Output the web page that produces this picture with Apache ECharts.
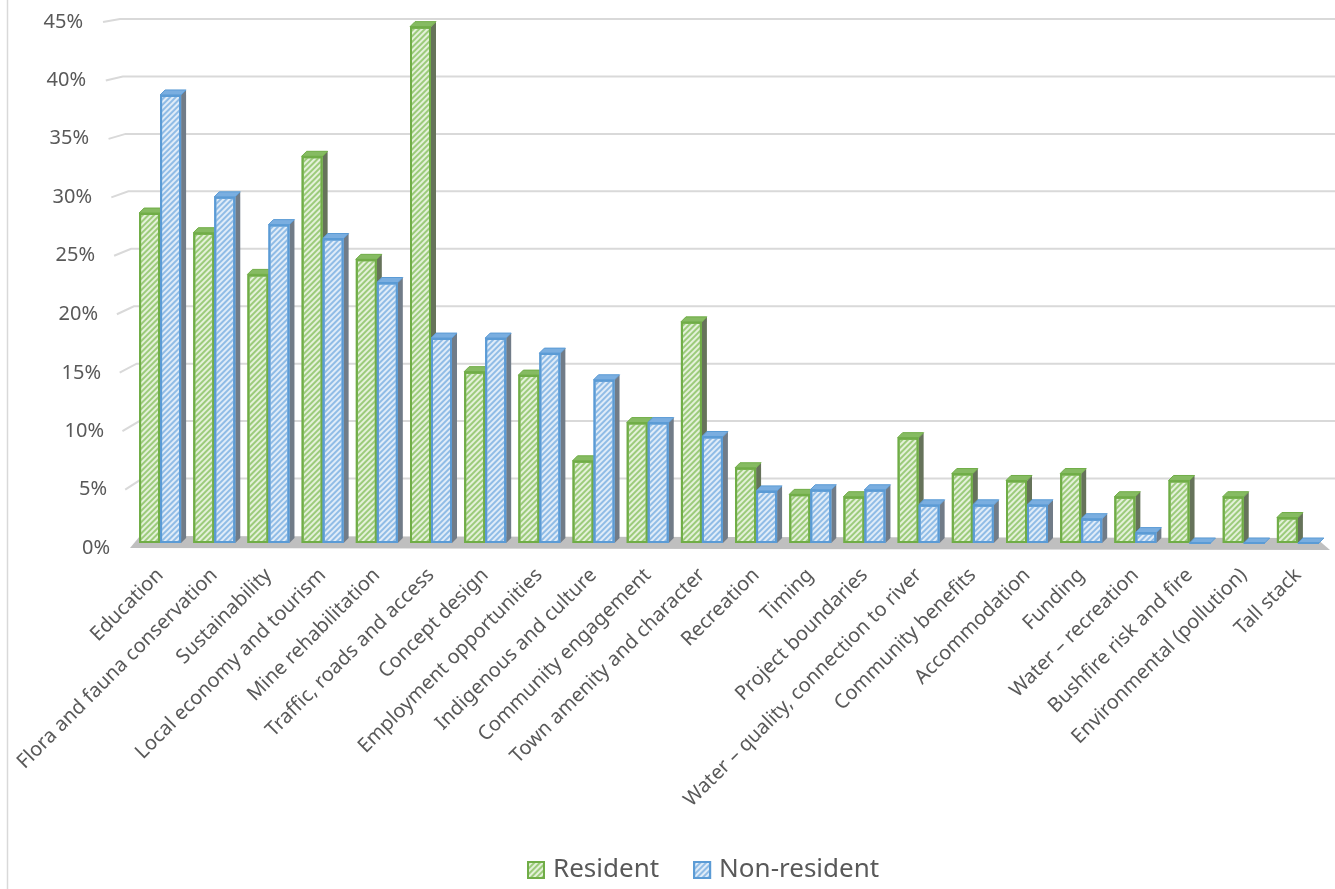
<!DOCTYPE html>
<html>
<head>
<meta charset="utf-8">
<script src="https://cdn.jsdelivr.net/npm/echarts@6/dist/echarts.min.js"></script>
<style>
html,body{margin:0;padding:0;background:#fff;}
#chart{width:1335px;height:889px;}
</style>
</head>
<body>
<div id="chart"></div>
<script>
const categories = [
  'Education', 'Flora and fauna conservation', 'Sustainability', 'Local economy and tourism',
  'Mine rehabilitation', 'Traffic, roads and access', 'Concept design', 'Employment opportunities',
  'Indigenous and culture', 'Community engagement', 'Town amenity and character', 'Recreation',
  'Timing', 'Project boundaries', 'Water \u2013 quality, connection to river', 'Community benefits',
  'Accommodation', 'Funding', 'Water \u2013 recreation', 'Bushfire risk and fire',
  'Environmental (pollution)', 'Tall stack'
];
const resident = [28.5, 26.8, 23.2, 33.4, 24.5, 44.6, 14.8, 14.5, 7.1, 10.4, 19.1, 6.5,
  4.2, 4.0, 9.1, 6.0, 5.4, 6.0, 4.0, 5.4, 4.0, 2.2];
const nonResident = [38.7, 29.9, 27.5, 26.3, 22.5, 17.7, 17.7, 16.4, 14.1, 10.4, 9.2, 4.5,
  4.6, 4.6, 3.3, 3.3, 3.3, 2.1, 0.9, 0, 0, 0];
const seriesNames = ['Resident', 'Non-resident'];
const yTicks = [5, 10, 15, 20, 25, 30, 35, 40, 45];
const yMax = 45;
const yStep = 5;

const FONT = '"Noto Sans", "DejaVu Sans", sans-serif';
const TXT = '#595959';
const BAR_W = 21;
const DX = 5, DY = -5;

const styles = [
  { border: '#70ad47', fill: '#e4f1da', stripe: '#9ccb7b', top: '#86bb62', side: '#66735a' },
  { border: '#5b9bd5', fill: '#e0ecf8', stripe: '#90bce6', top: '#7aaee0', side: '#717c88' }
];

function faceRenderer(k) {
  const s = styles[k];
  return function (params, api) {
    const top = api.coord([api.value(0), api.value(1)]);
    const base = api.coord([api.value(0), 0]);
    const x0 = k === 0 ? top[0] - BAR_W : top[0];
    const x1 = x0 + BAR_W;
    const yt = top[1], yb = base[1];
    return {
      type: 'group',
      children: [
        { type: 'polygon', shape: { points: [[x1, yt], [x1 + DX, yt + DY], [x1 + DX, yb + DY], [x1, yb]] },
          style: { fill: s.side } },
        { type: 'polygon', shape: { points: [[x0, yt], [x0 + DX, yt + DY], [x1 + DX, yt + DY], [x1, yt]] },
          style: { fill: s.top, stroke: s.border, lineWidth: 1 } }
      ]
    };
  };
}

function floorRenderer(params, api) {
  const cs = params.coordSys;
  const b = cs.y + cs.height;
  return {
    type: 'polygon',
    shape: { points: [[cs.x + 7, b - 7], [cs.x + cs.width - 9, b - 5], [cs.x + cs.width + 5, b + 7], [cs.x - 3, b + 5]] },
    style: { fill: '#bfbfbf' }
  };
}

// back-wall gridlines with the short slanted side-wall segment at their left end
function gridRenderer(params, api) {
  const cs = params.coordSys;
  const v = api.value(1);
  const y = api.coord([0, v])[1];
  const f = 1 - v / yMax;
  const xb = cs.x + 25 * f;
  const xf = xb - 17;
  const yf = y + 3 + 9 * f;
  return {
    type: 'polyline',
    shape: { points: [[xf, yf], [xb, y], [cs.x + cs.width, y]] },
    style: { stroke: '#d9d9d9', lineWidth: 2, fill: null }
  };
}

const labelRich = {};
for (let i = 0; i <= yMax / yStep; i++) {
  const f = 1 - i / (yMax / yStep);
  labelRich['l' + i] = {
    fontSize: 20, color: TXT, fontFamily: FONT,
    padding: [Math.round(10 * f), Math.round(27 * i / (yMax / yStep)), 0, 0]
  };
}

const chart = echarts.init(document.getElementById('chart'), null, { renderer: 'canvas' });
chart.setOption({
  backgroundColor: '#ffffff',
  animation: false,
  textStyle: { fontFamily: FONT },
  graphic: [
    { type: 'line', shape: { x1: 7.5, y1: 0, x2: 7.5, y2: 889 }, style: { stroke: '#d9d9d9', lineWidth: 1.5 }, z: 0 }
  ],
  legend: {
    data: seriesNames,
    bottom: 1,
    left: 522,
    itemWidth: 16,
    itemHeight: 16,
    itemGap: 34,
    icon: 'rect',
    textStyle: { fontSize: 26, color: TXT, fontFamily: FONT, padding: [0, 0, 0, 4] }
  },
  grid: [
    { left: 133, right: 10, top: 22, bottom: 346, outerBoundsMode: 'none', containLabel: false },
    { left: 120, right: 0, top: 19, bottom: 353, outerBoundsMode: 'none', containLabel: false }
  ],
  xAxis: [
    {
      type: 'category', gridIndex: 0, data: categories,
      axisLine: { show: false }, axisTick: { show: false },
      axisLabel: { interval: 0, rotate: 45, fontSize: 20, color: TXT, fontFamily: FONT, margin: 29 }
    },
    { type: 'value', gridIndex: 1, show: false, min: 0, max: 1 }
  ],
  yAxis: [
    {
      type: 'value', gridIndex: 0, min: 0, max: yMax, interval: yStep,
      axisLine: { show: false }, axisTick: { show: false }, splitLine: { show: false },
      axisLabel: {
        margin: 23,
        formatter: function (v) { return '{l' + Math.round(v / yStep) + '|' + v + '%}'; },
        rich: labelRich
      }
    },
    {
      type: 'value', gridIndex: 1, min: 0, max: yMax, interval: yStep, show: false,
      splitLine: { show: false }
    }
  ],
  series: [
    {
      name: seriesNames[0], type: 'bar', xAxisIndex: 0, yAxisIndex: 0, data: resident,
      barWidth: BAR_W, barGap: '0%', z: 4,
      itemStyle: {
        color: styles[0].fill, borderColor: styles[0].border, borderWidth: 2,
        decal: { symbol: 'rect', symbolSize: 1, color: styles[0].stripe, dashArrayX: [1, 0], dashArrayY: [2, 2], rotation: -Math.PI / 4 }
      }
    },
    {
      name: seriesNames[1], type: 'bar', xAxisIndex: 0, yAxisIndex: 0, data: nonResident,
      barWidth: BAR_W, barGap: '0%', z: 4,
      itemStyle: {
        color: styles[1].fill, borderColor: styles[1].border, borderWidth: 2,
        decal: { symbol: 'rect', symbolSize: 1, color: styles[1].stripe, dashArrayX: [1, 0], dashArrayY: [2, 2], rotation: -Math.PI / 4 }
      }
    },
    {
      type: 'custom', name: 'gridlines', xAxisIndex: 1, yAxisIndex: 1, z: 0,
      renderItem: gridRenderer, data: yTicks.map(function (v) { return [0, v]; }), silent: true
    },
    {
      type: 'custom', name: 'floor', xAxisIndex: 0, yAxisIndex: 0, z: 1,
      renderItem: floorRenderer, data: [[0, 0]], silent: true
    },
    {
      type: 'custom', name: seriesNames[0], xAxisIndex: 0, yAxisIndex: 0, z: 2,
      renderItem: faceRenderer(0), data: resident.map(function (v, i) { return [i, v]; }), silent: true
    },
    {
      type: 'custom', name: seriesNames[1], xAxisIndex: 0, yAxisIndex: 0, z: 3,
      renderItem: faceRenderer(1), data: nonResident.map(function (v, i) { return [i, v]; }), silent: true
    }
  ]
});
</script>
</body>
</html>
